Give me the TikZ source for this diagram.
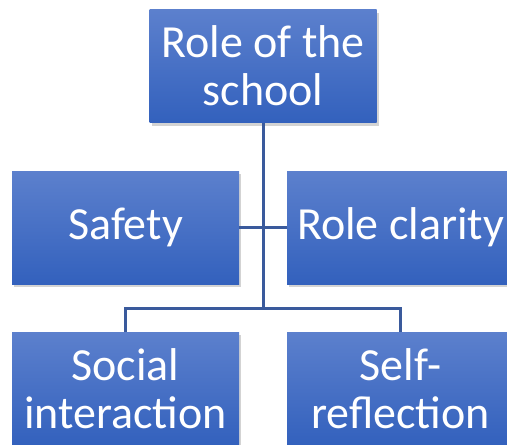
\documentclass[tikz,border=0pt]{standalone}
\usepackage{fontspec}
\setmainfont{Carlito}
\usepackage{xcolor}
\usepackage{tikz}
\usetikzlibrary{positioning,calc,shadows}
\definecolor{boxtop}{HTML}{5C80CD}
\definecolor{boxbot}{HTML}{3361BD}
\definecolor{linkblue}{HTML}{3A5A9C}

\begin{document}
\begin{tikzpicture}[
    x=1pt, y=1pt,
    block/.style={rectangle, top color=boxtop, bottom color=boxbot, minimum width=227pt, minimum height=113pt, align=center, text=white, inner sep=0pt, font=\fontsize{46}{48}\selectfont, drop shadow={opacity=0.35, shadow xshift=2pt, shadow yshift=-3pt}},
    link/.style={draw=linkblue, line width=3pt}
]
    \useasboundingbox (0,0) rectangle (507,-445);

    \node[block] (school) at (263,-66) {Role of the\\school};
    \node[block] (safety) at (125.5,-227.5) {Safety};
    \node[block] (clarity) at (400.5,-227.5) {Role clarity};
    \node[block] (social) at (125.5,-388.5) {Social\\interaction};
    \node[block] (reflect) at (400.5,-388.5) {Self-\\reflection};

    % Branch lines
    \coordinate (bus) at (263,-308);
    \draw[link] (school.south) -- (bus);
    \draw[link] (safety.east) -- (clarity.west);
    \draw[link] (social.north) |- (bus) -| (reflect.north);

\end{tikzpicture}
\end{document}
